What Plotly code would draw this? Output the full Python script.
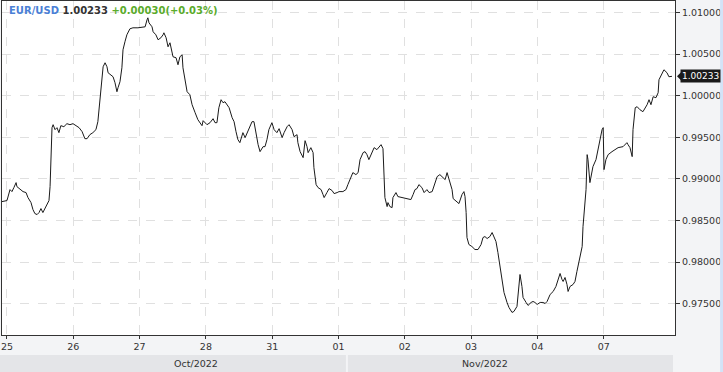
import plotly.graph_objects as go

# Hours since 25 Oct session open (weekend removed) and EUR/USD price
hours = [-1.8, 0.0, 1.1, 1.8, 2.5, 3.3, 3.6, 4.7, 5.8, 6.9, 7.6, 8.7, 9.4, 10.1, 10.9, 11.6, 12.3, 13.0, 13.8, 14.5,
         15.2, 15.6, 15.9, 16.3, 16.7, 17.4, 18.1, 18.8, 19.5, 20.6, 21.7, 22.8, 23.9, 25.0, 26.1, 27.2, 28.2, 29.0, 30.0, 31.1,
         32.2, 32.9, 33.7, 34.4, 34.8, 35.5, 36.2, 36.6, 37.6, 38.4, 39.1, 39.8, 40.2, 40.9, 41.6, 42.0, 42.7, 43.4, 44.5, 45.6,
         47.4, 48.9, 50.0, 50.7, 51.0, 51.4, 52.5, 52.9, 53.9, 54.7, 55.7, 56.5, 56.8, 57.6, 58.3, 59.0, 59.7, 60.1, 61.2, 61.9,
         62.6, 63.4, 63.7, 64.4, 65.2, 66.2, 67.0, 68.1, 69.1, 70.6, 71.0, 72.4, 73.5, 74.6, 75.3, 76.0, 76.7, 77.5, 78.2, 78.9,
         79.6, 80.4, 81.5, 82.2, 82.9, 83.6, 84.3, 85.4, 86.2, 86.9, 88.0, 88.7, 89.4, 90.1, 90.9, 91.6, 92.7, 93.4, 94.1, 94.8,
         95.9, 96.7, 97.7, 98.5, 99.6, 100.3, 101.4, 102.1, 103.2, 103.9, 105.0, 105.3, 106.1, 107.2, 107.9, 108.6, 109.0, 110.0, 110.8, 111.1,
         111.9, 112.6, 113.7, 114.4, 114.8, 115.8, 116.6, 117.7, 118.4, 119.5, 120.2, 121.6, 122.7, 123.4, 124.5, 125.2, 126.3, 127.1, 127.8, 128.9,
         129.6, 130.3, 131.0, 132.1, 132.9, 133.9, 134.7, 135.4, 136.1, 136.5, 136.8, 137.6, 137.9, 138.6, 139.4, 139.7, 140.8, 141.5, 143.0, 144.1,
         145.2, 146.2, 147.0, 147.7, 148.4, 149.1, 150.2, 151.0, 152.0, 152.8, 153.9, 154.6, 155.7, 156.7, 157.8, 158.6, 159.3, 160.0, 161.1, 161.5,
         162.5, 163.6, 164.7, 165.4, 165.8, 166.2, 166.5, 167.2, 168.3, 169.4, 170.5, 171.6, 172.3, 173.0, 173.8, 174.8, 175.6, 176.3, 177.0, 177.7,
         178.5, 179.2, 179.9, 181.0, 181.7, 182.8, 183.5, 184.6, 185.0, 185.7, 186.4, 186.8, 187.9, 188.6, 189.7, 190.4, 191.1, 191.9, 193.0, 194.0,
         194.8, 195.5, 196.6, 197.7, 198.7, 199.5, 200.2, 200.9, 201.3, 202.0, 202.7, 203.1, 203.8, 204.9, 205.6, 206.3, 206.7, 207.4, 208.2, 208.5,
         209.2, 209.6, 210.0, 210.3, 211.0, 211.8, 212.1, 213.2, 213.9, 214.7, 215.4, 215.8, 216.1, 216.8, 217.6, 219.0, 220.1, 221.2, 223.0, 224.4,
         224.8, 225.5, 226.3, 226.6, 227.4, 228.1, 229.1, 230.2, 231.7, 232.4, 233.1, 233.9, 234.9, 235.7, 236.0, 237.1, 237.8, 238.9, 239.6, 240.7]

prices = [0.98728, 0.98740, 0.98872, 0.98848, 0.98896, 0.98956, 0.98908, 0.98872, 0.98848, 0.98836, 0.98776, 0.98716, 0.98632, 0.98584, 0.98572, 0.98596, 0.98644, 0.98596, 0.98656, 0.98704,
          0.98740, 0.98908, 0.99232, 0.99616, 0.99652, 0.99592, 0.99616, 0.99556, 0.99640, 0.99628, 0.99664, 0.99652, 0.99664, 0.99640, 0.99616, 0.99568, 0.99484, 0.99484, 0.99532, 0.99556,
          0.99592, 0.99688, 0.99952, 1.00192, 1.00348, 1.00396, 1.00348, 1.00276, 1.00252, 1.00228, 1.00156, 1.00048, 1.00096, 1.00168, 1.00336, 1.00552, 1.00648, 1.00732, 1.00804, 1.00816,
          1.00816, 1.00828, 1.00828, 1.00912, 1.00936, 1.00876, 1.00828, 1.00768, 1.00732, 1.00672, 1.00696, 1.00732, 1.00756, 1.00696, 1.00588, 1.00636, 1.00528, 1.00468, 1.00456, 1.00372,
          1.00468, 1.00492, 1.00336, 1.00192, 1.00048, 1.00012, 0.99892, 0.99796, 0.99712, 0.99640, 0.99700, 0.99652, 0.99676, 0.99724, 0.99676, 0.99676, 0.99856, 0.99952, 0.99916, 0.99928,
          0.99892, 0.99856, 0.99736, 0.99688, 0.99568, 0.99472, 0.99436, 0.99556, 0.99496, 0.99556, 0.99652, 0.99688, 0.99688, 0.99556, 0.99412, 0.99328, 0.99388, 0.99388, 0.99472, 0.99592,
          0.99676, 0.99592, 0.99556, 0.99604, 0.99496, 0.99556, 0.99628, 0.99652, 0.99592, 0.99508, 0.99532, 0.99436, 0.99328, 0.99256, 0.99460, 0.99388, 0.99316, 0.99376, 0.99316, 0.99136,
          0.98932, 0.98896, 0.98872, 0.98812, 0.98776, 0.98836, 0.98884, 0.98860, 0.98824, 0.98836, 0.98848, 0.98848, 0.98872, 0.98932, 0.99028, 0.99076, 0.99052, 0.99076, 0.99232, 0.99316,
          0.99328, 0.99292, 0.99232, 0.99316, 0.99376, 0.99352, 0.99388, 0.99412, 0.99364, 0.99028, 0.98776, 0.98668, 0.98716, 0.98668, 0.98656, 0.98776, 0.98836, 0.98788, 0.98776, 0.98764,
          0.98764, 0.98752, 0.98812, 0.98872, 0.98884, 0.98932, 0.98896, 0.98836, 0.98872, 0.98836, 0.98848, 0.98920, 0.99028, 0.99052, 0.99016, 0.98992, 0.99076, 0.98992, 0.98872, 0.98764,
          0.98740, 0.98704, 0.98812, 0.98848, 0.98788, 0.98596, 0.98296, 0.98212, 0.98188, 0.98152, 0.98152, 0.98212, 0.98296, 0.98308, 0.98284, 0.98308, 0.98356, 0.98308, 0.98248, 0.98116,
          0.97948, 0.97792, 0.97636, 0.97516, 0.97456, 0.97396, 0.97408, 0.97468, 0.97588, 0.97852, 0.97708, 0.97576, 0.97516, 0.97480, 0.97516, 0.97528, 0.97516, 0.97492, 0.97516, 0.97516,
          0.97504, 0.97528, 0.97612, 0.97648, 0.97708, 0.97792, 0.97864, 0.97792, 0.97768, 0.97816, 0.97732, 0.97648, 0.97708, 0.97732, 0.97768, 0.97888, 0.97948, 0.98032, 0.98188, 0.98428,
          0.98668, 0.98872, 0.99292, 0.99232, 0.98956, 0.99076, 0.99148, 0.99232, 0.99352, 0.99472, 0.99592, 0.99616, 0.99112, 0.99232, 0.99292, 0.99328, 0.99352, 0.99376, 0.99388, 0.99436,
          0.99412, 0.99376, 0.99268, 0.99592, 0.99856, 0.99868, 0.99832, 0.99808, 0.99892, 0.99952, 0.99892, 0.99988, 0.99976, 1.00036, 1.00192, 1.00276, 1.00312, 1.00276, 1.00228, 1.00233]

day_ticks = [0, 24, 48, 72, 96, 120, 144, 168, 192, 216]
day_labels = ["25", "26", "27", "28", "31", "01", "02", "03", "04", "07"]
price_ticks = [0.975, 0.98, 0.985, 0.99, 0.995, 1.0, 1.005, 1.01]
months = ["Oct/2022", "Nov/2022"]
last_price = 1.00233
change = 0.00030
change_pct = 0.03

XMIN, XMAX = -1.8, 241.8
YMIN, YMAX = 0.97125, 1.01138
FONT = "DejaVu Sans"
TICK_SIZE = 9.5

fig = go.Figure()
fig.add_trace(go.Scatter(x=hours, y=prices, mode="lines",
                         line=dict(color="#1a1a1a", width=1), hoverinfo="skip"))

fig.update_layout(
    width=723, height=372,
    margin=dict(l=2, r=48, t=1, b=37),
    paper_bgcolor="#f3f4f6", plot_bgcolor="#ffffff",
    showlegend=False,
    font=dict(family=FONT, size=TICK_SIZE, color="#333333"),
    xaxis=dict(range=[XMIN, XMAX], tickvals=day_ticks, ticktext=day_labels,
               showgrid=True, gridcolor="#e0e0e0", griddash="dash", gridwidth=1,
               showline=True, linecolor="#333333", linewidth=1, mirror=True,
               ticks="outside", ticklen=3, tickcolor="#333333", zeroline=False,
               tickfont=dict(family=FONT, size=TICK_SIZE, color="#333333")),
    yaxis=dict(range=[YMIN, YMAX], tickvals=price_ticks, tickformat=".5f", side="right",
               showgrid=True, gridcolor="#e0e0e0", griddash="dash", gridwidth=1,
               showline=True, linecolor="#333333", linewidth=1, mirror=True,
               ticks="outside", ticklen=4, tickcolor="#333333", zeroline=False,
               tickfont=dict(family=FONT, size=TICK_SIZE, color="#333333")),
)

# Month bands below the axis
fig.add_shape(type="rect", xref="paper", yref="paper", x0=-0.01, x1=0.511, y0=-0.112, y1=-0.06,
              fillcolor="#e4e5e8", line_width=0, layer="below")
fig.add_shape(type="rect", xref="paper", yref="paper", x0=0.514, x1=0.997, y0=-0.112, y1=-0.06,
              fillcolor="#e4e5e8", line_width=0, layer="below")
fig.add_annotation(xref="paper", yref="paper", x=0.253, y=-0.086, text=months[0], showarrow=False,
                   font=dict(family=FONT, size=TICK_SIZE, color="#333333"), yanchor="middle")
fig.add_annotation(xref="paper", yref="paper", x=0.755, y=-0.086, text=months[1], showarrow=False,
                   font=dict(family=FONT, size=TICK_SIZE, color="#333333"), yanchor="middle")

# Right edge stripe
fig.add_shape(type="rect", xref="paper", yref="paper", x0=1.067, x1=1.08, y0=-0.2, y1=1.01,
              fillcolor="#d3e3f7", line_width=0)

# Title
fig.add_annotation(xref="paper", yref="paper", x=0.008, y=0.995, xanchor="left", yanchor="top",
                   showarrow=False, align="left",
                   text=(f"<b><span style='color:#4a7fd6'>EUR/USD</span> "
                         f"<span style='color:#333333'>{last_price:.5f}</span> "
                         f"<span style='color:#5aab2b'>+{change:.5f}(+{change_pct:.2f}%)</span></b>"),
                   font=dict(family=FONT, size=10))

# Last price marker
fig.add_annotation(xref="paper", yref="y", x=1.0, y=last_price, xanchor="left", yanchor="middle",
                   xshift=5, showarrow=False, text=f"{last_price:.5f}", bgcolor="#1a1a1a",
                   borderpad=1, font=dict(family=FONT, size=9, color="#ffffff"))
fig.add_shape(type="path", xref="paper", yref="y", xanchor=1.0, yanchor=last_price,
              xsizemode="pixel", ysizemode="pixel", path="M 2,0 L 7,-5 L 7,5 Z",
              fillcolor="#1a1a1a", line_width=0)

fig.write_html("out.html")
